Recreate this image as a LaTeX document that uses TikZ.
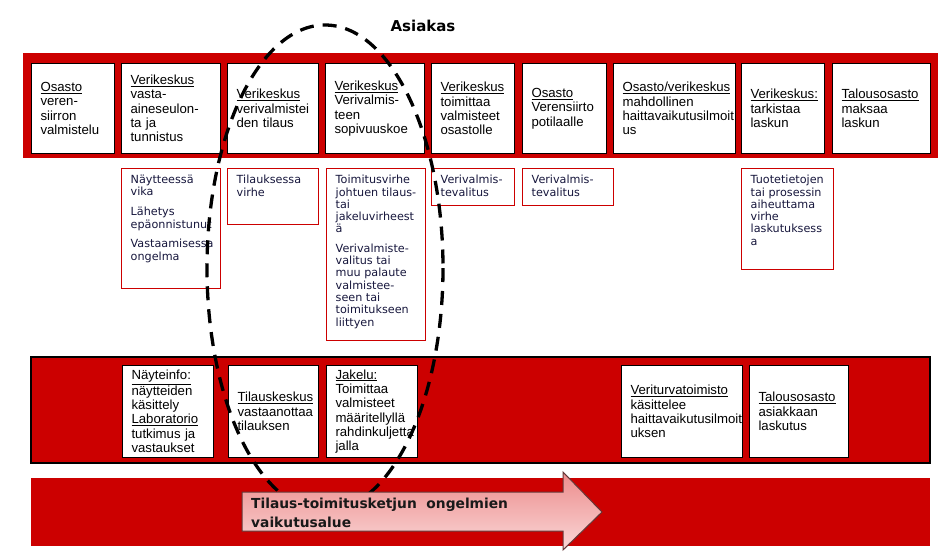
\documentclass[tikz,border=0pt]{standalone}
\usepackage{fontspec}
\setmainfont{Liberation Sans}
\newfontfamily\tahoma{DejaVu Sans}
\definecolor{kred}{HTML}{CC0000}
\definecolor{knavy}{HTML}{16163C}
\begin{document}
\begin{tikzpicture}[x=1pt,y=-1pt,
    topbox/.style={draw=black,line width=1pt,fill=white,anchor=north west,
      inner xsep=9pt,inner ysep=0pt,minimum height=90pt,align=left,
      font=\fontsize{13.2}{14.3}\selectfont},
    errbox/.style={draw=kred,line width=1.2pt,anchor=north west,inner sep=0pt},
    errtext/.style={anchor=north west,inner xsep=9.5pt,inner ysep=7pt,align=left,
      text=knavy,font=\tahoma\fontsize{11.2}{12.3}\selectfont}]
  \useasboundingbox (0,0) rectangle (940,555);
  % otsikko
  \node[font=\tahoma\bfseries\fontsize{15}{17}\selectfont] (asiakas) at (423,26) {Asiakas};
  % ylin kaista
  \fill[kred] (23,53) rectangle (938,158);
  \node[topbox,text width=65pt] (osasto) at (31,63) {\underline{Osasto}\\veren-\\siirron\\valmistelu};
  \node[topbox,text width=81pt] (seulonta) at (121,63) {\underline{Verikeskus}\\vasta-\\aineseulon-\\ta ja\\tunnistus};
  \node[topbox,text width=73pt] (tilaus) at (227,63) {\underline{Verikeskus}\\verivalmistei\\den tilaus};
  \node[topbox,text width=81pt] (sopivuus) at (325,63) {\underline{Verikeskus}\\Verivalmis-\\teen\\sopivuuskoe};
  \node[topbox,text width=65pt] (toimitus) at (431,63) {\underline{Verikeskus}\\toimittaa\\valmisteet\\osastolle};
  \node[topbox,text width=66pt] (siirto) at (522,63) {\underline{Osasto}\\Verensiirto\\potilaalle};
  \node[topbox,text width=104pt] (haitta) at (613,63) {\underline{Osasto/verikeskus}\\mahdollinen\\haittavaikutusilmoit\\us};
  \node[topbox,text width=65pt] (tarkistus) at (741,63) {\underline{Verikeskus:}\\tarkistaa\\laskun};
  \node[topbox,text width=80pt] (maksu) at (832,63) {\underline{Talousosasto}\\maksaa\\laskun};
  % ongelmat
  \node[errbox,minimum width=99pt,minimum height=120pt,
    label={[errtext]north west:{Näytteessä\\vika\\[7.5pt]Lähetys\\epäonnistunut\\[7.5pt]Vastaamisessa\\ongelma}}] (vika) at (121,168) {};
  \node[errbox,minimum width=91pt,minimum height=56pt,
    label={[errtext]north west:{Tilauksessa\\virhe}}] (tilvirhe) at (227,168) {};
  \node[errbox,minimum width=99pt,minimum height=172pt,
    label={[errtext]north west:{Toimitusvirhe\\johtuen tilaus-\\tai\\jakeluvirheest\\ä\\[7pt]Verivalmiste-\\valitus tai\\muu palaute\\valmistee-\\seen tai\\toimitukseen\\liittyen}}] (toimvirhe) at (326,168) {};
  \node[errbox,minimum width=83pt,minimum height=37pt,
    label={[errtext]north west:{Verivalmis-\\tevalitus}}] (valitus1) at (431,168) {};
  \node[errbox,minimum width=91pt,minimum height=37pt,
    label={[errtext]north west:{Verivalmis-\\tevalitus}}] (valitus2) at (522,168) {};
  \node[errbox,minimum width=92pt,minimum height=101pt,
    label={[errtext]north west:{Tuotetietojen\\tai prosessin\\aiheuttama\\virhe\\laskutuksess\\a}}] (laskvirhe) at (741,168) {};
  % alempi kaista
  \draw[fill=kred,line width=2.5pt] (31,357) rectangle (930,463);
  \node[topbox,minimum height=92pt,text width=73pt] (nayte) at (122,365) {\underline{Näyteinfo:}\\näytteiden\\käsittely\\\underline{Laboratorio}\\tutkimus ja\\vastaukset};
  \node[topbox,minimum height=92pt,text width=72pt] (tilkeskus) at (228,365) {\underline{Tilauskeskus}\\vastaanottaa\\tilauksen};
  \node[topbox,minimum height=92pt,text width=73pt] (jakelu) at (326,365) {\underline{Jakelu:}\\Toimittaa\\valmisteet\\määritellyllä\\rahdinkuljetta\\jalla};
  \node[topbox,minimum height=92pt,text width=103pt] (veriturva) at (621,365) {\underline{Veriturvatoimisto}\\käsittelee\\haittavaikutusilmoit\\uksen};
  \node[topbox,minimum height=92pt,text width=81pt] (laskutus) at (749,365) {\underline{Talousosasto}\\asiakkaan\\laskutus};
  % vaikutusalue
  \fill[kred] (31,478) rectangle (930,546);
  \draw[line width=3.3pt,dash pattern=on 14pt off 9pt] (325,268) ellipse [x radius=118,y radius=243];
  \draw[draw={rgb,255:red,100;green,55;blue,55},line width=1pt,top color={rgb,255:red,236;green,140;blue,140},
    bottom color={rgb,255:red,250;green,215;blue,215}]
    (242,492) -- (563,492) -- (563,472) -- (602,512) -- (563,550) -- (563,531) -- (242,531) -- cycle;
  \node[anchor=west,inner sep=0pt,align=left,text=black!90,
    font=\tahoma\bfseries\fontsize{13.8}{19}\selectfont] (alue) at (251,512.5) {Tilaus-toimitusketjun\ \ ongelmien\\vaikutusalue};
\end{tikzpicture}
\end{document}
